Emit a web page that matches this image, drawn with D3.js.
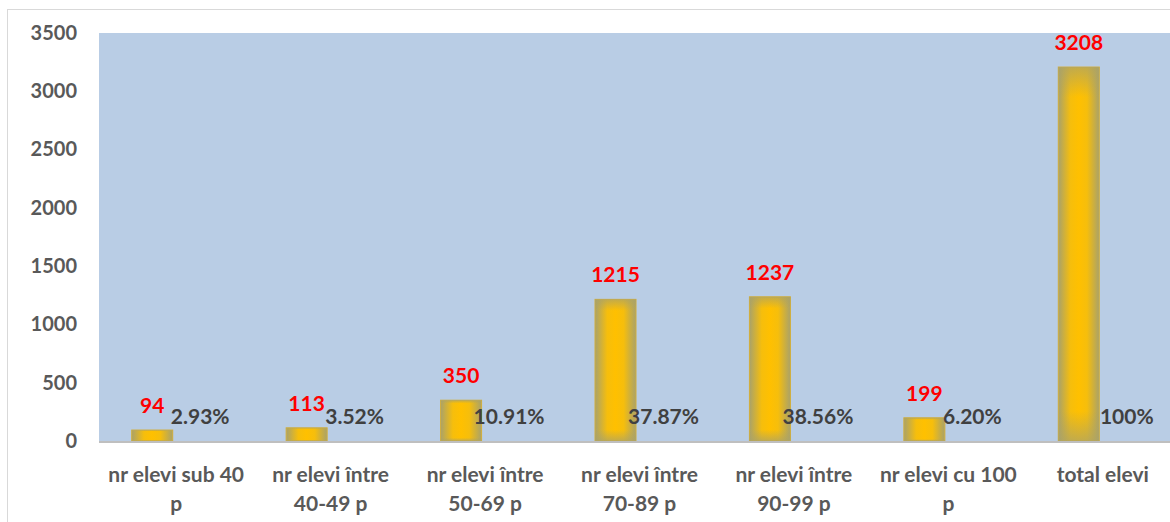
<!DOCTYPE html>
<html>
<head>
<meta charset="utf-8">
<script src="https://cdn.jsdelivr.net/npm/d3@7"></script>
<style>
  body { margin: 0; background: #fff; }
  svg { display: block; }
  text { font-family: Lato, "Open Sans", sans-serif; font-weight: bold; }
</style>
</head>
<body>
<div id="chart_area"></div>
<script>
// data
var categories = [
    "nr elevi sub 40\np",
    "nr elevi între\n40-49 p",
    "nr elevi între\n50-69 p",
    "nr elevi între\n70-89 p",
    "nr elevi între\n90-99 p",
    "nr elevi cu 100\np",
    "total elevi"
];
var counts = [94, 113, 350, 1215, 1237, 199, 3208];
var percents = [2.93, 3.52, 10.91, 37.87, 38.56, 6.20, 100];
var percentLabels = ["2.93%", "3.52%", "10.91%", "37.87%", "38.56%", "6.20%", "100%"];
var yTicks = [0, 500, 1000, 1500, 2000, 2500, 3000, 3500];
var series = ["count", "pct"];

var W = 1170, H = 522;
var plot = { left: 99, right: 1180, top: 33, bottom: 441 };

var data = categories.map(function (c, i) {
    return { cat: c, count: counts[i], pct: percents[i] / 100, pctLabel: percentLabels[i] };
});

var svg = d3.select("#chart_area")
    .append("svg")
    .attr("width", W)
    .attr("height", H);

// gradient for the bars (gold middle, olive-grey edges)
var defs = svg.append("defs");
var grad = defs.append("linearGradient")
    .attr("id", "barGrad")
    .attr("x1", "0").attr("x2", "1").attr("y1", "0").attr("y2", "0");
grad.append("stop").attr("offset", "0%").attr("stop-color", "#A9A26A");
grad.append("stop").attr("offset", "30%").attr("stop-color", "#F6BE0C");
grad.append("stop").attr("offset", "50%").attr("stop-color", "#FFC000");
grad.append("stop").attr("offset", "70%").attr("stop-color", "#F6BE0C");
grad.append("stop").attr("offset", "100%").attr("stop-color", "#A9A26A");

var vgrad = defs.append("linearGradient")
    .attr("id", "barGradV")
    .attr("x1", "0").attr("x2", "0").attr("y1", "0").attr("y2", "1");
vgrad.append("stop").attr("offset", "0%").attr("stop-color", "#A9A26A").attr("stop-opacity", 0.7);
vgrad.append("stop").attr("offset", "8%").attr("stop-color", "#A9A26A").attr("stop-opacity", 0);
vgrad.append("stop").attr("offset", "92%").attr("stop-color", "#A9A26A").attr("stop-opacity", 0);
vgrad.append("stop").attr("offset", "100%").attr("stop-color", "#A9A26A").attr("stop-opacity", 0.7);

// outer chart frame
svg.append("rect")
    .attr("x", 7.5).attr("y", 9.5)
    .attr("width", 1300).attr("height", 700)
    .attr("fill", "#fff")
    .attr("stroke", "#D9D9D9");

// plot area
svg.append("rect")
    .attr("x", plot.left).attr("y", plot.top)
    .attr("width", plot.right - plot.left)
    .attr("height", plot.bottom - plot.top)
    .attr("fill", "#B9CDE5");

// scales
var x0 = d3.scaleBand()
    .domain(categories)
    .range([plot.left, plot.right])
    .padding(0);

var half = 48;
var x1 = d3.scaleBand()
    .domain(series)
    .range([x0.bandwidth() / 2 - half, x0.bandwidth() / 2 + half])
    .paddingInner(0.146)
    .paddingOuter(0.073);

var y = d3.scaleLinear()
    .domain([0, 3500])
    .range([plot.bottom, plot.top]);

// Y axis labels
var yAxis = svg.append("g")
    .attr("transform", "translate(" + plot.left + ",0)")
    .call(d3.axisLeft(y).tickValues(yTicks).tickFormat(d3.format("d")).tickSize(0).tickPadding(22));
yAxis.select(".domain").remove();
yAxis.selectAll("text")
    .attr("fill", "#595959")
    .style("font-size", "20px")
    .style("font-family", "Lato, sans-serif")
    .style("font-weight", "bold");

// bars
var groups = svg.selectAll("g.cat")
    .data(data)
    .enter()
    .append("g")
    .attr("class", "cat")
    .attr("transform", function (d) { return "translate(" + x0(d.cat) + ",0)"; });

groups.append("rect")
    .attr("x", x1("count"))
    .attr("width", x1.bandwidth())
    .attr("y", function (d) { return y(d.count); })
    .attr("height", function (d) { return y(0) - y(d.count); })
    .attr("fill", "url(#barGrad)")
    .attr("stroke", "#D2AE3A")
    .attr("stroke-width", 1);

groups.append("rect")
    .attr("x", x1("count"))
    .attr("width", x1.bandwidth())
    .attr("y", function (d) { return y(d.count); })
    .attr("height", function (d) { return y(0) - y(d.count); })
    .attr("fill", "url(#barGradV)");

// value labels (red)
groups.append("text")
    .attr("x", x1("count") + x1.bandwidth() / 2)
    .attr("y", function (d) { return y(d.count) - 17; })
    .attr("text-anchor", "middle")
    .attr("fill", "#FF0000")
    .style("font-size", "21px")
    .text(function (d) { return d.count; });

// percent labels (invisible second series)
groups.append("text")
    .attr("x", x1("pct") + x1.bandwidth() / 2)
    .attr("y", function (d) { return y(d.pct) - 17; })
    .attr("text-anchor", "middle")
    .attr("fill", "#404040")
    .style("font-size", "21px")
    .text(function (d) { return d.pctLabel; });

// baseline
svg.append("line")
    .attr("x1", plot.left).attr("x2", plot.right)
    .attr("y1", y(0) + 1).attr("y2", y(0) + 1)
    .attr("stroke", "#BFBFBF")
    .attr("stroke-width", 2);

// category labels
var xAxis = svg.append("g");
xAxis.selectAll("text")
    .data(categories)
    .enter()
    .append("text")
    .attr("x", function (d) { return x0(d) + x0.bandwidth() / 2; })
    .attr("y", 482)
    .attr("text-anchor", "middle")
    .attr("fill", "#595959")
    .style("font-size", "21px")
    .each(function (d) {
        var t = d3.select(this);
        d.split("\n").forEach(function (line, i) {
            t.append("tspan")
                .attr("x", t.attr("x"))
                .attr("dy", i === 0 ? 0 : 29)
                .text(line);
        });
    });
</script>
</body>
</html>
